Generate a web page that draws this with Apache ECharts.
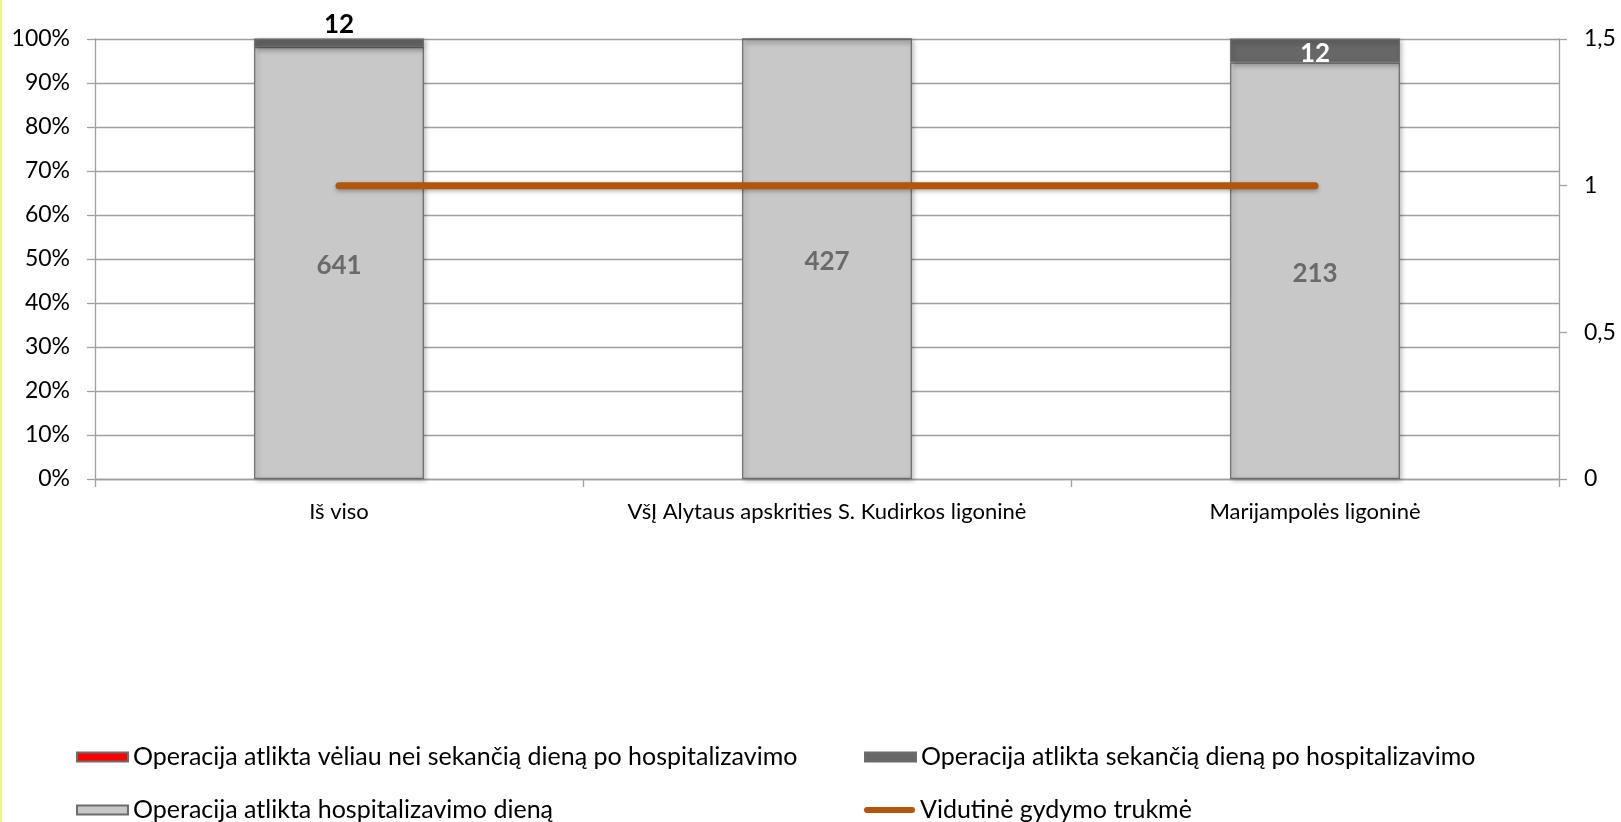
<!DOCTYPE html>
<html>
<head>
<meta charset="utf-8">
<script src="https://cdn.jsdelivr.net/npm/echarts@6/dist/echarts.min.js"></script>
<style>
  html, body { margin: 0; padding: 0; background: #fff; }
  #wrap { position: relative; width: 1621px; height: 822px; }
  #chart { position: absolute; left: 0; top: 0; width: 1621px; height: 822px; }
  #edge { position: absolute; left: 0; top: 0; width: 2px; height: 822px; background: #eef38a; }
</style>
</head>
<body>
<div id="wrap"><div id="chart"></div><div id="edge"></div></div>
<script>
const categories = ['Iš viso', 'VšĮ Alytaus apskrities S. Kudirkos ligoninė', 'Marijampolės ligoninė'];
const laterCounts = [0, 0, 0];
const nextDayCounts = [12, 0, 12];
const sameDayCounts = [641, 427, 213];
const avgDuration = [1, 1, 1];
const seriesNames = [
  'Operacija atlikta vėliau nei sekančią dieną po hospitalizavimo',
  'Operacija atlikta sekančią dieną po hospitalizavimo',
  'Operacija atlikta hospitalizavimo dieną',
  'Vidutinė gydymo trukmė'
];

const FONT = 'Lato';
const totals = categories.map((c, i) => laterCounts[i] + nextDayCounts[i] + sameDayCounts[i]);
const pct = (arr) => arr.map((v, i) => totals[i] ? v / totals[i] * 100 : 0);

const barShadow = { shadowBlur: 5, shadowColor: 'rgba(0,0,0,0.3)', shadowOffsetX: 2, shadowOffsetY: 2 };

function barSeries(name, counts, color, labelColor) {
  const p = pct(counts);
  return {
    name: name,
    type: 'bar',
    stack: 'total',
    barWidth: '34.8%',
    itemStyle: Object.assign({ color: color, borderColor: '#6c6c6c', borderWidth: 1.2 }, barShadow),
    data: p.map((v, i) => {
      const thin = v > 0 && v < 4;
      return {
        value: v,
        label: {
          show: counts[i] > 0,
          position: thin ? 'top' : 'inside',
          distance: 3,
          offset: thin ? [0, 2] : [0, 3],
          color: thin ? '#000' : labelColor,
          fontFamily: FONT,
          fontWeight: 'bold',
          fontSize: 26,
          formatter: () => String(counts[i])
        }
      };
    })
  };
}

function legendAt(left, top, item) {
  return {
    left: left, top: top, orient: 'horizontal',
    itemWidth: 51, itemHeight: 9,
    icon: 'rect',
    textStyle: { fontFamily: FONT, fontSize: 25, color: '#000', lineHeight: 26 },
    data: [item]
  };
}

const chart = echarts.init(document.getElementById('chart'), null, { renderer: 'canvas' });
chart.setOption({
  animation: false,
  textStyle: { fontFamily: FONT },
  grid: { left: 95, right: 62, top: 39, bottom: 343 },
  legend: [
    legendAt(71, 739, seriesNames[0]),
    legendAt(859, 739, seriesNames[1]),
    legendAt(71, 792, seriesNames[2]),
    legendAt(859, 792, { name: seriesNames[3], icon: 'path://M3,0 L48,0 A3,3 0 0 1 48,6 L3,6 A3,3 0 0 1 3,0 Z' })
  ],
  xAxis: {
    type: 'category',
    data: categories,
    boundaryGap: true,
    axisLine: { lineStyle: { color: '#a0a0a0', width: 1.3 } },
    axisTick: { show: true, length: 8, lineStyle: { color: '#a0a0a0', width: 1.3 } },
    axisLabel: { color: '#000', fontFamily: FONT, fontSize: 22, margin: 22, interval: 0 }
  },
  yAxis: [
    {
      type: 'value', min: 0, max: 100, interval: 10,
      axisLine: { show: true, lineStyle: { color: '#a0a0a0', width: 1.3 } },
      axisTick: { show: true, length: 8, lineStyle: { color: '#a0a0a0', width: 1.3 } },
      splitLine: { lineStyle: { color: '#a0a0a0', width: 1.3 } },
      axisLabel: { color: '#000', fontFamily: FONT, fontSize: 23, margin: 25, formatter: '{value}%' }
    },
    {
      type: 'value', min: 0, max: 1.5, interval: 0.5, position: 'right',
      axisLine: { show: true, lineStyle: { color: '#a0a0a0', width: 1.3 } },
      axisTick: { show: true, length: 8, lineStyle: { color: '#a0a0a0', width: 1.3 } },
      splitLine: { show: false },
      axisLabel: { color: '#000', fontFamily: FONT, fontSize: 23, margin: 25,
        formatter: v => String(v).replace('.', ',') }
    }
  ],
  series: [
    barSeries(seriesNames[2], sameDayCounts, '#c8c8c8', '#6a6a6a'),
    barSeries(seriesNames[1], nextDayCounts, '#676767', '#ffffff'),
    barSeries(seriesNames[0], laterCounts, '#ff0000', '#000'),
    {
      name: seriesNames[3],
      type: 'line',
      yAxisIndex: 1,
      data: avgDuration,
      symbol: 'none',
      z: 5,
      itemStyle: { color: '#b3550b' },
      lineStyle: { color: '#b3550b', width: 7, cap: 'round', shadowBlur: 4, shadowColor: 'rgba(0,0,0,0.3)', shadowOffsetY: 2 }
    }
  ]
});
</script>
</body>
</html>
